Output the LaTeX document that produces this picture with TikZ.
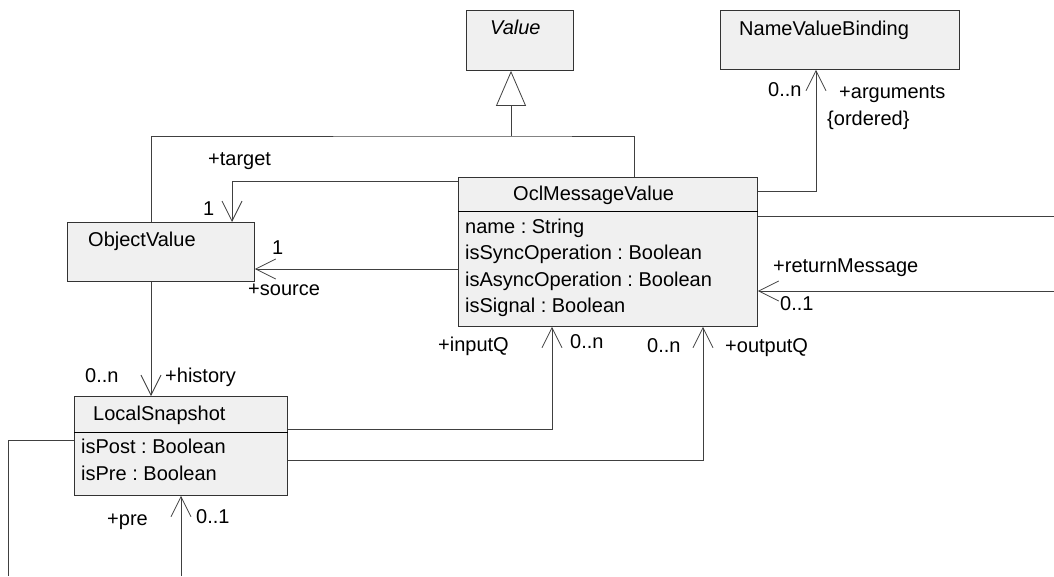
\documentclass[tikz,border=0pt]{standalone}
\usepackage{fontspec}
\setmainfont{Liberation Sans}
\frenchspacing
\usetikzlibrary{arrows.meta,calc,positioning}
\tikzset{
  classbox/.style={draw=black!80, fill=black!6, line width=0.9pt, inner sep=0pt, anchor=north west},
  txt/.style={anchor=base west, inner sep=0pt},
  link/.style={draw=black!75, line width=0.8pt},
  assoc/.style={link, -{Straight Barb[length=20pt,width=20pt]}},
  inherit/.style={link, -{Triangle[open,length=35pt,width=30pt,fill=white]}},
}
\begin{document}
\begin{tikzpicture}[x=1pt, y=-1pt, font=\fontsize{20}{24}\selectfont]
\useasboundingbox (0,0) rectangle (1054,576);

% classes
\node[classbox, minimum width=107, minimum height=60] (value) at (466,10) {};
\node[txt] (valuename) at (490,34) {\itshape Value};

\node[classbox, minimum width=239, minimum height=59] (nvb) at (720,10) {};
\node[txt] (nvbname) at (739,35) {NameValueBinding};

\node[classbox, minimum width=299, minimum height=149] (ocl) at (458,177) {};
\node[txt] (oclname) at (513,200) {OclMessageValue};
\draw ($(ocl.north west)+(0,34)$) -- ($(ocl.north east)+(0,34)$);
\node[txt] (a1) at (465,233) {name : String};
\node[txt] (a2) at (465,259.5) {isSyncOperation : Boolean};
\node[txt] (a3) at (465,286) {isAsyncOperation : Boolean};
\node[txt] (a4) at (465,312.5) {isSignal : Boolean};

\node[classbox, minimum width=187, minimum height=59] (obj) at (67,222) {};
\node[txt] (objname) at (88,246) {ObjectValue};

\node[classbox, minimum width=213, minimum height=99] (snap) at (74,396) {};
\node[txt] (snapname) at (93,420) {LocalSnapshot};
\draw ($(snap.north west)+(0,36)$) -- ($(snap.north east)+(0,36)$);
\node[txt] (s1) at (81,453) {isPost : Boolean};
\node[txt] (s2) at (81,480) {isPre : Boolean};

% generalization
\coordinate (genjoin) at (511,136);
\draw[inherit] (genjoin) -- (value.south -| genjoin);
\draw[link] ($(obj.north west)+(84,0)$) |- (genjoin) -| ($(ocl.north west)+(176,0)$);

% associations
\draw[assoc] ($(ocl.north west)+(0,4)$) -| ($(obj.north west)+(165,0)$);
\draw[assoc] ($(ocl.north west)+(0,92)$) -- (obj.east |- 0,269);
\draw[assoc] ($(ocl.north east)+(0,14)$) -| (nvb.south -| 816,0);
\coordinate (rightend1) at (1054,216);
\coordinate (rightend2) at (1054,291);
\draw[link] (ocl.east |- rightend1) -- (rightend1);
\draw[assoc] (rightend2) -- (ocl.east |- rightend2);
\draw[assoc] (obj.south -| 151,0) -- (snap.north -| 151,0);
\draw[assoc] ($(snap.north east)+(0,33)$) -| (ocl.south -| 552,0);
\draw[assoc] ($(snap.north east)+(0,64)$) -| (ocl.south -| 703,0);
\coordinate (leftend) at (8,576);
\coordinate (preend) at (181,576);
\draw[link] ($(snap.north west)+(0,44)$) -| (leftend);
\draw[assoc] (preend) -- (snap.south -| preend);

% role names and multiplicities
\node[txt] (rtarget) at (208,165) {+target};
\node[txt] (mtarget) at (203,215) {1};
\node[txt] (msource) at (272,254) {1};
\node[txt] (rsource) at (248,295) {+source};
\node[txt] (margs) at (768,96) {0..n};
\node[txt] (rargs) at (839,98) {+arguments};
\node[txt] (ordered) at (827,125) {\{ordered\}};
\node[txt] (rreturn) at (773,272) {+returnMessage};
\node[txt] (mreturn) at (780,310) {0..1};
\node[txt] (rinput) at (438,351) {+inputQ};
\node[txt] (minput) at (570,348) {0..n};
\node[txt] (moutput) at (647,352) {0..n};
\node[txt] (routput) at (725,352) {+outputQ};
\node[txt] (mhistory) at (85,382) {0..n};
\node[txt] (rhistory) at (165,382) {+history};
\node[txt] (rpre) at (107,525) {+pre};
\node[txt] (mpre) at (196,523) {0..1};
\end{tikzpicture}
\end{document}
